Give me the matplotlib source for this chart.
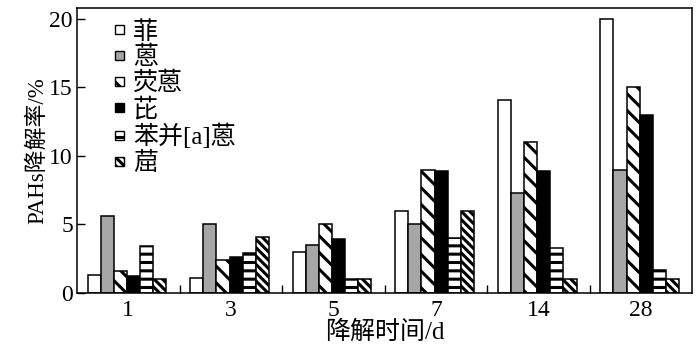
import numpy as np
import matplotlib.pyplot as plt
from matplotlib.patches import Rectangle
from matplotlib.container import BarContainer
from matplotlib.legend_handler import HandlerPatch

plt.rcParams['font.family'] = ['Liberation Serif', 'Noto Sans CJK SC']
plt.rcParams['hatch.linewidth'] = 2.2

# data
days = ['1', '3', '5', '7', '14', '28']
names = ['菲', '蒽', '荧蒽', '芘', '苯并[a]蒽', '䓛']
phe = [1.3, 1.1, 3.0, 6.0, 14.1, 20.0]
ant = [5.6, 5.0, 3.5, 5.0, 7.3, 9.0]
fla = [1.6, 2.4, 5.0, 9.0, 11.0, 15.0]
pyr = [1.2, 2.6, 3.9, 8.9, 8.9, 13.0]
baa = [3.4, 2.9, 1.0, 4.0, 3.3, 1.7]
chr_ = [1.0, 4.1, 1.0, 6.0, 1.0, 1.0]
series = [phe, ant, fla, pyr, baa, chr_]

faces = ['white', '#a6a6a6', 'white', 'black', 'white', 'white']
hatches = [None, None, '\\\\', None, '--', '\\\\\\\\']


def square(legend, orig_handle, xdescent, ydescent, width, height, fontsize):
    s = 6.5
    return Rectangle((-xdescent + (width - s) / 2, -ydescent + (height - s) / 2), s, s)


def first_bar(legend_handle, orig_handle):
    legend_handle.update_from(orig_handle.patches[0])
    legend_handle.set_linewidth(1.0)


fig = plt.figure(figsize=(7, 3.59), dpi=100)
ax = fig.add_axes([0.110, 0.184, 0.879, 0.794])

x = np.arange(len(days))
w = 0.128
for i, vals in enumerate(series):
    off = (i - 2.6) * w
    ax.bar(x + off, vals, w, color=faces[i], edgecolor='black',
           linewidth=1.1, hatch=hatches[i], label=names[i])

ax.set_xlim(-0.5, 5.5)
ax.set_ylim(0, 20.8)
ax.set_yticks([0, 5, 10, 15, 20])
ax.set_xticks(x)
ax.set_xticklabels(days)
ax.set_xticks(x[:-1] + 0.5, minor=True)
ax.tick_params(axis='x', which='major', length=0, labelsize=17, pad=5)
ax.tick_params(axis='x', which='minor', direction='in', length=6, width=1)
ax.tick_params(axis='y', direction='in', length=6, width=1, labelsize=17, pad=3)
for s in ax.spines.values():
    s.set_linewidth(1.1)

ax.set_xlabel('降解时间/d', fontsize=18, labelpad=0)
ax.set_ylabel('PAHs降解率/%', fontsize=16.5, labelpad=1)

ax.legend(loc='upper left', bbox_to_anchor=(0.042, 0.99), frameon=False,
          fontsize=18, handlelength=0.5, handleheight=0.7,
          labelspacing=0.1, handletextpad=0.3, borderaxespad=0,
          handler_map={BarContainer: HandlerPatch(patch_func=square,
                                                  update_func=first_bar)})

fig.savefig('out.png', dpi=100)
